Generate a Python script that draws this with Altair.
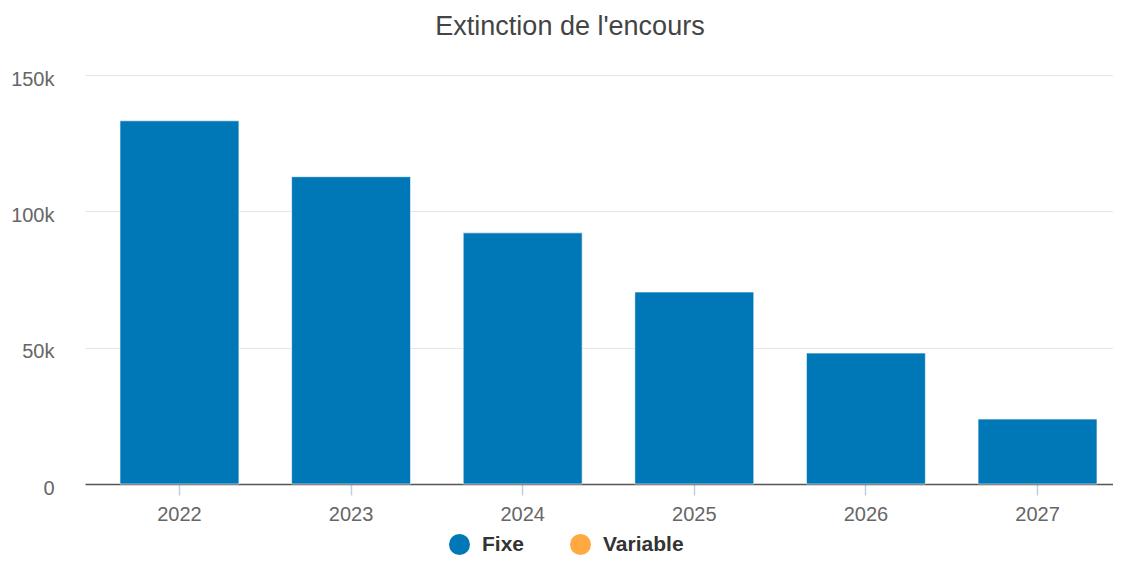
import altair as alt
import pandas as pd

years = ["2022", "2023", "2024", "2025", "2026", "2027"]
fixe = [133200, 112700, 92100, 70400, 48000, 23800]
series = ["Fixe", "Variable"]
colors = ["#0077b6", "#ffa940"]
y_ticks = [0, 50000, 100000, 150000]

df = pd.DataFrame({"year": years, "value": fixe, "serie": ["Fixe"] * len(years)})

FONT = "Liberation Sans"

chart = alt.Chart(df).mark_bar(stroke="#ffffff", strokeWidth=1, strokeOpacity=0.6).encode(
    x=alt.X(
        "year:N",
        title=None,
        sort=years,
        scale=alt.Scale(paddingInner=0.307, paddingOuter=0.204, range=[0, 1047]),
        axis=alt.Axis(
            labelAngle=0,
            labelColor="#666666",
            labelFontSize=20,
            labelFont=FONT,
            domainColor="#555555",
            domainWidth=1.5,
            tickColor="#c0cde6",
            tickSize=11,
            tickWidth=1.5,
            labelPadding=9,
            grid=False,
        ),
    ),
    y=alt.Y(
        "value:Q",
        title=None,
        scale=alt.Scale(domain=[0, 150000], nice=False),
        axis=alt.Axis(
            values=y_ticks,
            labelExpr="datum.value == 0 ? '0' : (datum.value / 1000) + 'k'",
            labelColor="#666666",
            labelFontSize=20,
            labelFont=FONT,
            labelPadding=31,
            labelOffset=4,
            ticks=False,
            domain=False,
            gridColor="#e6e6e6",
            gridWidth=1,
        ),
    ),
    color=alt.Color(
        "serie:N",
        scale=alt.Scale(domain=series, range=colors),
        legend=alt.Legend(
            title=None,
            orient="none",
            direction="horizontal",
            legendX=364,
            legendY=459,
            symbolType="circle",
            symbolSize=441,
            symbolStrokeWidth=0,
            labelFont=FONT,
            labelFontSize=21,
            labelFontWeight="bold",
            labelColor="#333333",
            labelOffset=12,
            columnPadding=45,
        ),
    ),
).properties(
    width=1028,
    height=409,
    title=alt.TitleParams(
        "Extinction de l'encours",
        font=FONT,
        fontSize=27,
        fontWeight="normal",
        color="#444444",
        anchor="middle",
        frame="group",
        dx=-29,
        offset=28,
    ),
    padding={"left": 77, "top": 67, "right": 0, "bottom": 76},
    autosize=alt.AutoSizeParams(type="none"),
).configure_view(stroke=None)

chart.save("out.html", embed_options={"renderer": "svg", "actions": False})
